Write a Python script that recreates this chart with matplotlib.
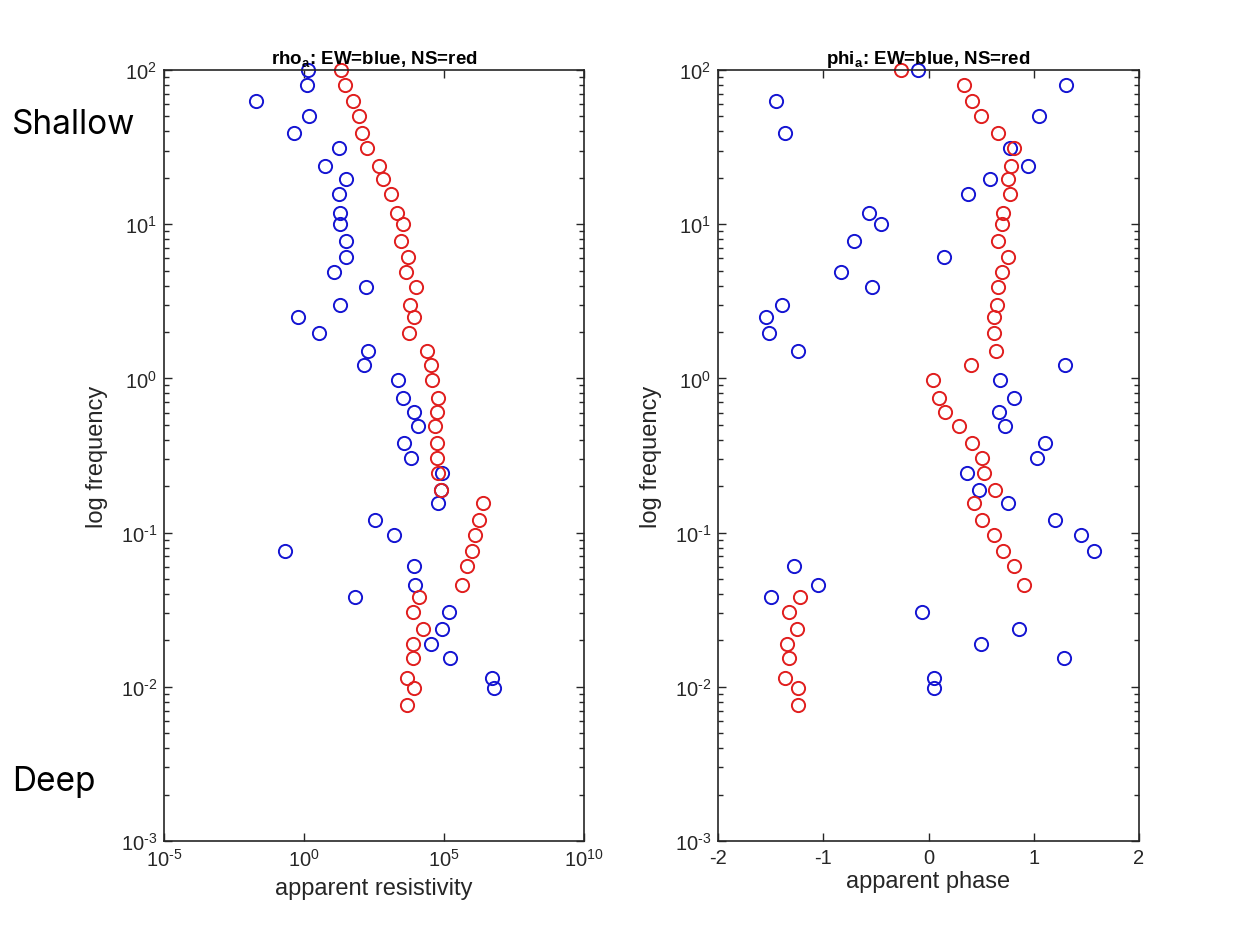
import numpy as np
import matplotlib
matplotlib.use("Agg")
import matplotlib.pyplot as plt
from matplotlib.ticker import LogLocator, NullLocator, FixedLocator, FuncFormatter

plt.rcParams["font.family"] = ["Liberation Sans", "DejaVu Sans"]
plt.rcParams["mathtext.fontset"] = "custom"
plt.rcParams["mathtext.rm"] = "Liberation Sans"
plt.rcParams["mathtext.it"] = "Liberation Sans:italic"
plt.rcParams["mathtext.bf"] = "Liberation Sans:bold"
plt.rcParams["axes.unicode_minus"] = False

# sounding frequencies (Hz), shared by both components
freq = [100, 80, 63, 50, 39, 31, 24, 19.5, 15.6, 11.9,
        10, 7.8, 6.1, 4.9, 3.9, 3.0, 2.5, 1.97, 1.5, 1.22,
        0.98, 0.75, 0.61, 0.49, 0.38, 0.305, 0.244, 0.19, 0.156, 0.121,
        0.097, 0.076, 0.061, 0.046, 0.038, 0.0305, 0.0237, 0.019, 0.0154, 0.0114,
        0.0098, 0.0076]

# log10 of apparent resistivity
log_rho_ew = [0.15, 0.10, -1.70, 0.19, -0.36, 1.25, 0.74, 1.50, 1.25, 1.29,
              1.30, 1.50, 1.50, 1.06, 2.20, 1.29, -0.23, 0.52, 2.27, 2.15,
              3.37, 3.52, 3.93, 4.08, 3.58, 3.82, 4.93, 4.89, 4.80, 2.55,
              3.21, -0.68, 3.93, 3.98, 1.83, 5.18, 4.94, 4.54, 5.20, 6.70,
              6.79, np.nan]
log_rho_ns = [1.32, 1.46, 1.74, 1.98, 2.08, 2.24, 2.69, 2.81, 3.10, 3.32,
              3.52, 3.48, 3.70, 3.65, 4.00, 3.79, 3.93, 3.74, 4.38, 4.54,
              4.56, 4.80, 4.76, 4.68, 4.76, 4.74, 4.80, 4.89, 6.40, 6.26,
              6.11, 5.99, 5.81, 5.65, 4.12, 3.90, 4.26, 3.90, 3.90, 3.67,
              3.92, 3.68]

# apparent phase
phi_ew = [-0.10, 1.31, -1.45, 1.05, -1.36, 0.77, 0.95, 0.58, 0.38, -0.57,
          -0.45, -0.71, 0.15, -0.83, -0.54, -1.39, -1.54, -1.52, -1.24, 1.30,
          0.68, 0.81, 0.67, 0.73, 1.11, 1.03, 0.37, 0.48, 0.76, 1.20,
          1.45, 1.57, -1.28, -1.05, -1.50, -0.06, 0.86, 0.50, 1.29, 0.05,
          0.05, np.nan]
phi_ns = [-0.26, 0.34, 0.41, 0.50, 0.66, 0.81, 0.78, 0.76, 0.77, 0.71,
          0.70, 0.66, 0.76, 0.70, 0.66, 0.65, 0.62, 0.62, 0.64, 0.40,
          0.04, 0.10, 0.16, 0.29, 0.41, 0.51, 0.53, 0.63, 0.43, 0.51,
          0.62, 0.71, 0.81, 0.91, -1.22, -1.33, -1.25, -1.34, -1.33, -1.36,
          -1.24, -1.24]

rho_ew = 10.0 ** np.array(log_rho_ew)
rho_ns = 10.0 ** np.array(log_rho_ns)


def pow10_label(v, pos):
    # 10^n with a plain hyphen in the exponent
    n = int(round(np.log10(v)))
    if n < 0:
        return r"$10^{\text{-}%d}$" % (-n)
    return r"$10^{%d}$" % n


W, H = 1248, 937
fig = plt.figure(figsize=(W / 100, H / 100), dpi=100)
ax1 = fig.add_axes([164 / W, 95 / H, 420 / W, 771 / H])
ax2 = fig.add_axes([718 / W, 95 / H, 421 / W, 771 / H])

mk = dict(linestyle="none", marker="o", markersize=9.5, markerfacecolor="none",
          markeredgewidth=1.4, clip_on=False)
blue = "#1414d2"
red = "#e01e1e"
axcol = "#262626"

ax1.plot(rho_ew, freq, color=blue, markeredgecolor=blue, **mk)
ax1.plot(rho_ns, freq, color=red, markeredgecolor=red, **mk)
ax2.plot(phi_ew, freq, color=blue, markeredgecolor=blue, **mk)
ax2.plot(phi_ns, freq, color=red, markeredgecolor=red, **mk)

for ax in (ax1, ax2):
    ax.set_yscale("log")
    ax.set_ylim(1e-3, 1e2)
    ax.yaxis.set_major_locator(FixedLocator([1e-3, 1e-2, 1e-1, 1e0, 1e1, 1e2]))
    ax.yaxis.set_minor_locator(LogLocator(base=10, subs=np.arange(2, 10), numticks=20))
    ax.yaxis.set_major_formatter(FuncFormatter(pow10_label))
    ax.tick_params(which="both", direction="in", top=True, right=True,
                   color=axcol, labelcolor=axcol, labelsize=14.5, pad=5)
    ax.tick_params(which="major", length=6, width=1.0)
    ax.tick_params(which="minor", length=3.5, width=1.0)
    for sp in ax.spines.values():
        sp.set_color(axcol)
        sp.set_linewidth(1.2)
    ax.set_ylabel("log frequency", fontsize=17, color=axcol, labelpad=9)

ax1.set_xscale("log")
ax1.set_xlim(1e-5, 1e10)
ax1.xaxis.set_major_locator(FixedLocator([1e-5, 1e0, 1e5, 1e10]))
ax1.xaxis.set_minor_locator(NullLocator())
ax1.xaxis.set_major_formatter(FuncFormatter(pow10_label))
ax1.set_xlabel("apparent resistivity", fontsize=17, color=axcol, labelpad=5)
ax1.set_title(r"rho$_\mathbf{a}$: EW=blue, NS=red", fontsize=13.5, fontweight="bold", pad=5)

ax2.set_xlim(-2, 2)
ax2.set_xticks([-2, -1, 0, 1, 2])
ax2.set_xticklabels(["-2", "-1", "0", "1", "2"])
ax2.set_xlabel("apparent phase", fontsize=17, color=axcol, labelpad=2)
ax2.set_title(r"phi$_\mathbf{a}$: EW=blue, NS=red", fontsize=13.5, fontweight="bold", pad=5)

# depth annotations beside the left panel
fig.text(12 / W, 1 - 125 / H, "Shallow", fontsize=24, family="Inter", va="center", ha="left")
fig.text(12 / W, 1 - 782 / H, "Deep", fontsize=24, family="Inter", va="center", ha="left")

fig.savefig("out.png", dpi=100, facecolor="white")
